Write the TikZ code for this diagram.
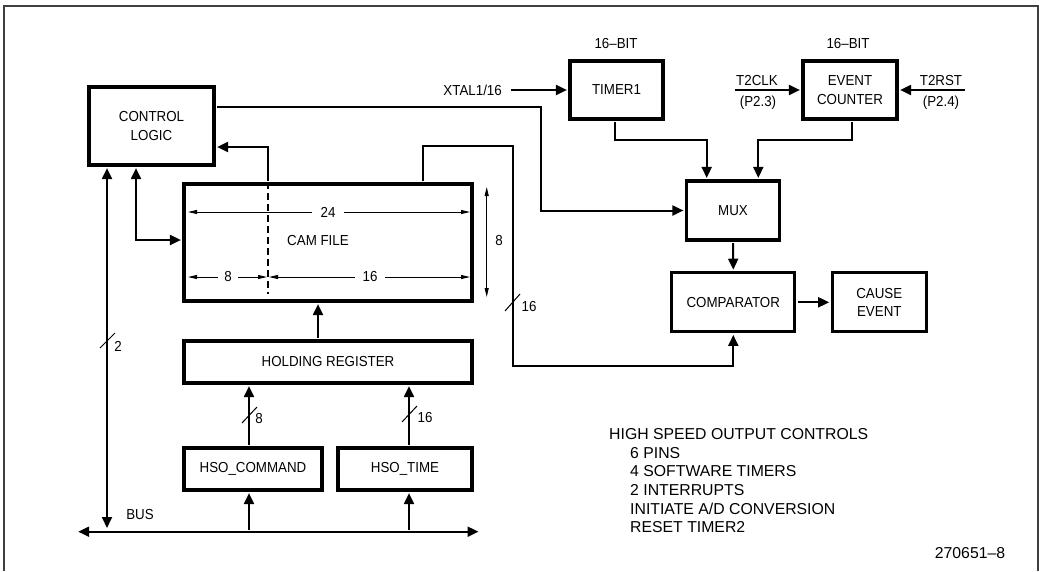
\documentclass[tikz,border=0pt]{standalone}
\usepackage{fontspec}
\setmainfont{Liberation Sans}
\newfontfamily\lblfont[FakeStretch=0.92]{Liberation Sans}
\usetikzlibrary{arrows.meta}

\tikzset{
  blk/.style={draw,line width=3.2pt,inner sep=0pt,align=center,font=\lblfont\fontsize{14.5}{18.5}\selectfont},
  lbl/.style={inner sep=0pt,align=center,font=\lblfont\fontsize{14.5}{18.5}\selectfont},
  conn/.style={line width=2pt,shorten >=1.5pt,shorten <=1.5pt},
  dimln/.style={line width=1pt,{Triangle[length=9pt,width=4pt]}-{Triangle[length=9pt,width=4pt]}},
  dimlbl/.style={lbl,fill=white,inner xsep=7pt,inner ysep=2pt},
  slash/.style={line width=1pt},
  frame/.style={line width=1.5pt,black!75},
  note/.style={inner sep=0pt,font=\fontsize{15.8}{18.6}\selectfont}
}

\begin{document}
\begin{tikzpicture}[x=1pt,y=-1pt,>={Triangle[length=11pt,width=10pt]}]
  \useasboundingbox (0,0) rectangle (1039,571);
  \draw[frame] (4,571) -- (4,6) -- (1038,6) -- (1038,571);

  % blocks
  \node[blk,minimum width=125pt,minimum height=78pt] (ctrl) at (151.5,126) {CONTROL\\LOGIC};
  \node[blk,minimum width=288pt,minimum height=117pt] (cam) at (328,242.5) {};
  \node[lbl] (camlbl) at (318,241) {CAM FILE};
  \node[blk,minimum width=288pt,minimum height=42pt] (hold) at (328,362) {HOLDING REGISTER};
  \node[blk,minimum width=138pt,minimum height=42pt] (hsoc) at (253,469) {HSO\_COMMAND};
  \node[blk,minimum width=134pt,minimum height=42pt] (hsot) at (405,469) {HSO\_TIME};
  \node[blk,minimum width=93pt,minimum height=58pt] (timer) at (616.5,90) {TIMER1};
  \node[blk,minimum width=94pt,minimum height=58pt] (evc) at (850,90) {EVENT\\COUNTER};
  \node[blk,minimum width=93pt,minimum height=59pt] (mux) at (733,210.5) {MUX};
  \node[blk,minimum width=123pt,minimum height=59pt] (comp) at (733.3,302.3) {COMPARATOR};
  \node[blk,minimum width=94pt,minimum height=59pt] (cause) at (879.3,302.3) {CAUSE\\EVENT};

  % labels
  \node[lbl] (tbit) at (616,44) {16–BIT};
  \node[lbl] (ebit) at (848,44) {16–BIT};
  \node[lbl,anchor=east] (xtal) at (502,90) {XTAL1/16};
  \node[lbl,anchor=base] (t2clk) at (757,85) {T2CLK};
  \node[lbl,anchor=base] (p23) at (758,106) {(P2.3)};
  \node[lbl,anchor=base] (t2rstlbl) at (941,85) {T2RST};
  \node[lbl,anchor=base] (p24) at (941,106) {(P2.4)};
  \node[lbl] (buslbl) at (140,515) {BUS};

  % cam file dimensions
  \draw[line width=2.2pt,dash pattern=on 7pt off 4pt] (cam.north -| 268,0) -- (268,294);
  \draw[dimln] (188,212) -- (470,212);
  \node[dimlbl,inner xsep=9pt] (d24) at (328,212) {24};
  \draw[dimln] (188,277) -- (267,277);
  \node[dimlbl,inner xsep=6pt] (d8) at (228,277) {8};
  \draw[dimln] (269,277) -- (470,277);
  \node[dimlbl,inner xsep=8pt] (d16) at (370,277) {16};
  \draw[dimln] (486.7,187) -- (486.7,297);
  \node[lbl] (dv8) at (499,241) {8};

  % bus and connectors
  \coordinate (busL) at (76.7,531.7);
  \coordinate (busR) at (480,531.7);
  \coordinate (t2in) at (733,90);
  \coordinate (t2rst) at (966.7,90);
  \draw[conn,<->] (busL) -- (busR);
  \draw[conn,<->] (ctrl.south -| 107,0) -- (107,529.5);
  \draw[conn,<->] (ctrl.south -| 136,0) |- (cam.west |- 0,240);
  \draw[conn,->] (cam.north -| 268,0) |- (ctrl.east |- 0,147);
  \draw[conn,->] (cam.north -| 423,0) |- (512.7,146) |- (comp.south |- 0,366) -- (comp.south);
  \draw[conn,->] (ctrl.east |- 0,107) -| (mux.west -| 540.7,0) -- (mux.west);
  \draw[conn,->] (hold.north -| 318,0) -- (cam.south -| 318,0);
  \draw[conn,->] (hsoc.north -| 249,0) -- (hold.south -| 249,0);
  \draw[conn,->] (hsot.north -| 409,0) -- (hold.south -| 409,0);
  \draw[conn,->] (busL -| 249,0) -- (hsoc.south -| 249,0);
  \draw[conn,->] (busL -| 409,0) -- (hsot.south -| 409,0);
  \draw[conn,->] ([xshift=7pt]xtal.east) -- (timer.west);
  \draw[conn,->] (t2in) -- (evc.west);
  \draw[conn,->] (t2rst) -- (evc.east);
  \draw[conn,->] (timer.south -| 615,0) |- (706.7,140) -- (mux.north -| 706.7,0);
  \draw[conn,->] (evc.south -| 851.7,0) |- (758.3,140) -- (mux.north -| 758.3,0);
  \draw[conn,->] (mux.south) -- (comp.north);
  \draw[conn,->] (comp.east) -- (cause.west);

  % bus widths
  \draw[slash] (100,348) -- (115,333);
  \node[lbl] (w2) at (118,346) {2};
  \draw[slash] (242,423) -- (257,407);
  \node[lbl] (w8) at (259,419) {8};
  \draw[slash] (402,422) -- (417,406);
  \node[lbl] (w16a) at (425,418) {16};
  \draw[slash] (505,311) -- (520,294);
  \node[lbl] (w16b) at (529,307) {16};

  % notes
  \node[note,anchor=north west,align=left] (hsonote) at (609,428.5)
    {HIGH SPEED OUTPUT CONTROLS\\\hspace*{21pt}6 PINS\\\hspace*{21pt}4 SOFTWARE TIMERS\\\hspace*{21pt}2 INTERRUPTS\\\hspace*{21pt}INITIATE A/D CONVERSION\\\hspace*{21pt}RESET TIMER2};
  \node[note] (fignum) at (970,553.3) {270651–8};
\end{tikzpicture}
\end{document}
